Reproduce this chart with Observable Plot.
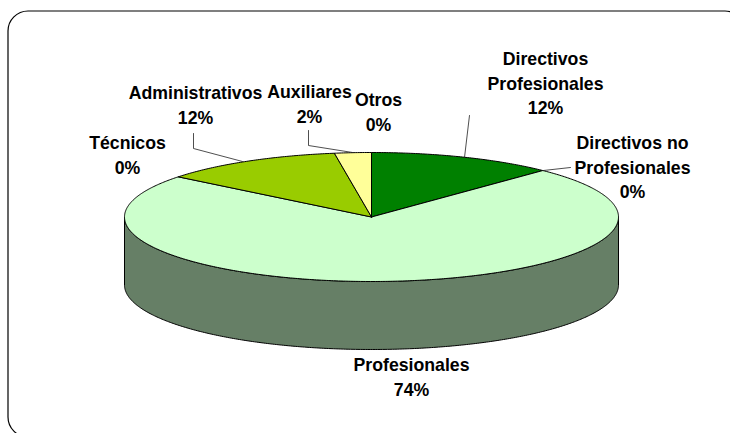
<!DOCTYPE html>
<html><head><meta charset="utf-8">
<script src="https://cdn.jsdelivr.net/npm/d3@7"></script>
<script src="https://cdn.jsdelivr.net/npm/@observablehq/plot@0.6"></script>
<style>html,body{margin:0;padding:0;background:#fff}svg{display:block}</style>
</head><body><div id="chart"></div>
<script>
const categories = ["Directivos Profesionales","Directivos no Profesionales","Profesionales","Técnicos","Administrativos","Auxiliares","Otros"];
const shares = [12.2,0,73.5,0,11.9,2.4,0];
const colors = ["#008000","#339966","#CCFFCC","#99CC00","#99CC00","#FFFF99","#FFFFCC"];
const labelLines = [["Directivos","Profesionales"],["Directivos no","Profesionales"],["Profesionales"],["Técnicos"],["Administrativos"],["Auxiliares"],["Otros"]];
const labelAt = [[545,59],[632,143],[411,365],[127,143],[195,93],[309,92],[378,100]];
const leaders = [[[469,115],[464,157]],[[570,167],[543,170]],[[193,133],[193,148],[242,161]],[[308,130],[308,145],[352,152]]];

const W=730,H=433,cx=371,cy=216.5,rx=247,ry=64.5,depth=68,lineH=24.6;
const pt=(a,dy=0)=>({x:cx+rx*Math.sin(a),y:cy-ry*Math.cos(a)+dy});
const arc=(a0,a1,dy=0)=>{const n=Math.max(1,Math.ceil((a1-a0)/0.01));return d3.range(n+1).map(i=>pt(a0+(a1-a0)*i/n,dy));};

let acc=0;
const slices=shares.map((v,i)=>{const a0=acc/100*2*Math.PI;acc+=v;const a1=acc/100*2*Math.PI;
  const c={x:cx,y:cy};
  return {i,color:colors[i],v,points:[c,...arc(a0,a1),c]};}).filter(s=>s.v>0);
const slicePts=slices.flatMap(s=>s.points.map(p=>({...p,k:s.i,color:s.color})));
const sidePts=[...arc(Math.PI/2,3*Math.PI/2),...arc(Math.PI/2,3*Math.PI/2,depth).reverse()];
sidePts.push(sidePts[0]);
const leaderPts=leaders.flatMap((l,k)=>l.map(p=>({x:p[0],y:p[1],k})));
const texts=categories.flatMap((c,i)=>{const lines=[...labelLines[i],d3.format(".0f")(shares[i])+"%"];
  return lines.map((t,j)=>({t,x:labelAt[i][0],y:labelAt[i][1]+j*lineH}));});

const chart=Plot.plot({
  width:W,height:H,margin:0,
  x:{domain:[0,W],range:[0,W],axis:null},
  y:{domain:[0,H],range:[0,H],axis:null},
  style:{background:"#fff"},
  marks:[
    Plot.line(sidePts,{x:"x",y:"y",fill:"#667F66",stroke:"#000",strokeWidth:1,curve:"linear"}),
    Plot.line(slicePts,{x:"x",y:"y",z:"k",fill:"color",stroke:"#000",strokeWidth:1,curve:"linear",strokeLinejoin:"round"}),
    Plot.line(leaderPts,{x:"x",y:"y",z:"k",stroke:"#222",strokeWidth:0.8,curve:"linear"}),
    Plot.text(texts,{x:"x",y:"y",text:"t",textAnchor:"middle",fontFamily:"Liberation Sans, Arial, sans-serif",fontWeight:"bold",fontSize:17.7,fill:"#000"}),
    Plot.rect([{x1:8,x2:745,y1:11,y2:437}],{x1:"x1",x2:"x2",y1:"y1",y2:"y2",fill:"none",stroke:"#000",strokeWidth:1.2,rx:20,clip:"frame"})
  ]
});
document.getElementById("chart").appendChild(chart);
</script></body></html>
